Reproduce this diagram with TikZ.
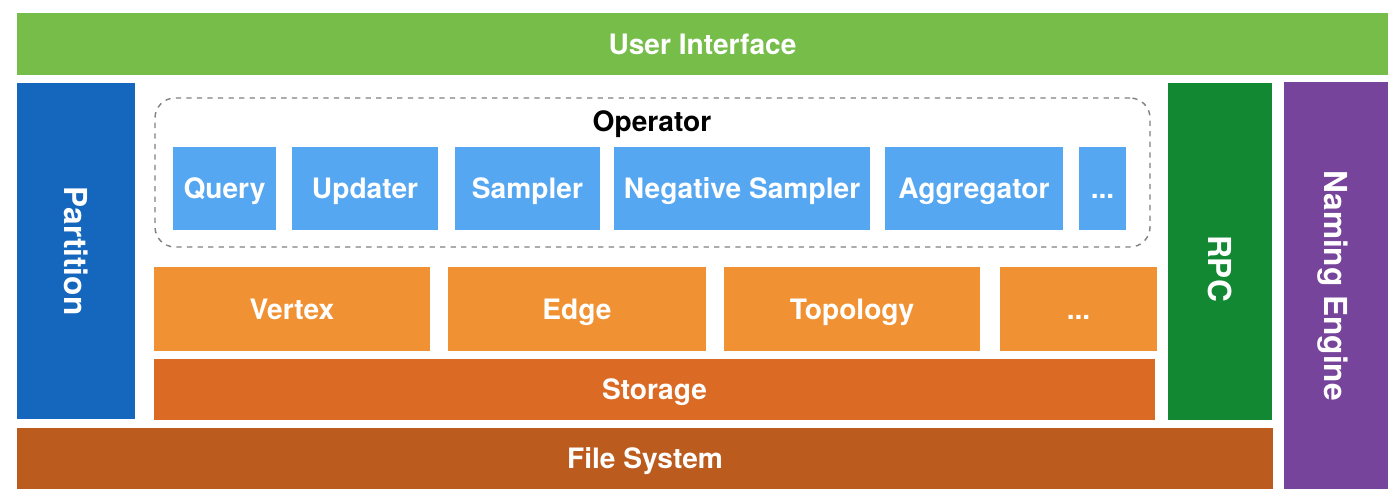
\documentclass[tikz,border=0pt]{standalone}
\usepackage{xcolor}
\usepackage{fontspec}
\setmainfont{TeX Gyre Heros}
\usepackage{tikz}

\definecolor{uigreen}{HTML}{76BD4A}
\definecolor{partblue}{HTML}{1467BC}
\definecolor{opblue}{HTML}{56A7F1}
\definecolor{dataorange}{HTML}{F09233}
\definecolor{storeorange}{HTML}{DA6A24}
\definecolor{fsbrown}{HTML}{BB5B1D}
\definecolor{rpcgreen}{HTML}{128832}
\definecolor{namepurple}{HTML}{77449B}

\tikzset{
    block/.style={inner sep=0pt, text=white, text height=11.5pt, text depth=0pt, font=\fontsize{16}{19}\selectfont\bfseries},
    sidelabel/.style={block, rotate=-90, text height=13pt, font=\fontsize{18}{21}\selectfont\bfseries},
    opbox/.style={block, fill=opblue, minimum height=1.66cm},
    databox/.style={block, fill=dataorange, minimum height=1.68cm},
}

\begin{document}
\begin{tikzpicture}
    \useasboundingbox (0, 0) rectangle (28, -10);

    \node[block, fill=uigreen, minimum width=27.42cm, minimum height=1.24cm] at (14.05, -0.88) (ui) {User Interface};
    \node[block, fill=partblue, minimum width=2.36cm, minimum height=6.72cm] at (1.52, -5.02) (part) {};
    \node[sidelabel] at (part.center) (partlbl) {Partition};

    \node[draw=gray, dashed, line width=0.8pt, rounded corners=0.4cm, minimum width=19.9cm, minimum height=2.98cm] at (13.05, -3.45) (op) {};
    \node[inner sep=0pt, text height=11.5pt, text depth=0pt, font=\fontsize{16}{19}\selectfont\bfseries] at (13.04, -2.42) (oplbl) {Operator};

    \node[opbox, minimum width=2.06cm] at (4.49, -3.77) (query) {Query};
    \node[opbox, minimum width=2.92cm] at (7.3, -3.77) (updater) {Updater};
    \node[opbox, minimum width=2.9cm] at (10.55, -3.77) (sampler) {Sampler};
    \node[opbox, minimum width=5.12cm] at (14.84, -3.77) (negsampler) {Negative Sampler};
    \node[opbox, minimum width=3.56cm] at (19.48, -3.77) (aggregator) {Aggregator};
    \node[opbox, minimum width=0.94cm] at (22.05, -3.77) (opmore) {...};

    \node[databox, minimum width=5.52cm] at (5.84, -6.18) (vertex) {Vertex};
    \node[databox, minimum width=5.16cm] at (11.54, -6.18) (edge) {Edge};
    \node[databox, minimum width=5.12cm] at (17.04, -6.18) (topology) {Topology};
    \node[databox, minimum width=3.14cm] at (21.57, -6.18) (datamore) {...};

    \node[block, fill=storeorange, minimum width=20.02cm, minimum height=1.22cm] at (13.09, -7.79) (storage) {Storage};

    \node[block, fill=rpcgreen, minimum width=2.08cm, minimum height=6.74cm] at (24.4, -5.03) (rpc) {};
    \node[sidelabel] at (24.4, -5.37) (rpclbl) {RPC};

    \node[block, fill=namepurple, minimum width=2.08cm, minimum height=8.14cm] at (26.72, -5.71) (naming) {};
    \node[sidelabel] at (naming.center) (naminglbl) {Naming Engine};

    \node[block, fill=fsbrown, minimum width=25.12cm, minimum height=1.22cm] at (12.9, -9.17) (fs) {File System};
\end{tikzpicture}
\end{document}
